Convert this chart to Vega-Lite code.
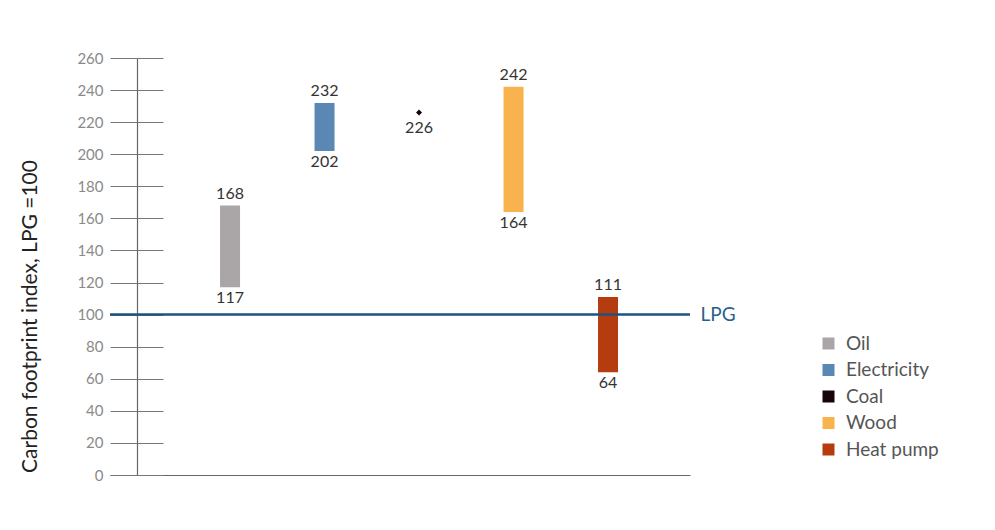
{
  "$schema": "https://vega.github.io/schema/vega-lite/v6.json",
  "width": 580,
  "height": 417,
  "autosize": {"type": "none"},
  "padding": {"left": 110, "top": 58, "right": 305, "bottom": 55},
  "background": "white",
  "config": {
    "view": {"stroke": null},
    "font": "Lato",
    "axis": {"labelFont": "Lato", "titleFont": "Lato"},
    "legend": {"labelFont": "Lato"}
  },
  "datasets": {
    "fuels": [
      {"fuel": "Oil", "low": 117, "high": 168},
      {"fuel": "Electricity", "low": 202, "high": 232},
      {"fuel": "Coal", "low": 226, "high": 226},
      {"fuel": "Wood", "low": 164, "high": 242},
      {"fuel": "Heat pump", "low": 64, "high": 111}
    ],
    "ref": [{"series": "LPG", "index": 100}]
  },
  "resolve": {"scale": {"y": "shared"}, "axis": {"y": "independent"}},
  "layer": [
    {
      "data": {"name": "fuels"},
      "mark": {"type": "bar", "size": 20},
      "encoding": {
        "x": {
          "field": "fuel", "type": "nominal",
          "sort": ["Oil", "Electricity", "Coal", "Wood", "Heat pump"],
          "scale": {"paddingInner": 0, "paddingOuter": 0.569, "align": 0.677},
          "axis": {"labels": false, "ticks": false, "title": null, "domainColor": "#666666", "domainWidth": 1.2}
        },
        "y": {
          "field": "low", "type": "quantitative",
          "scale": {"domain": [0, 260], "nice": false, "zero": true},
          "axis": {
            "orient": "left", "offset": -27, "values": [0,20,40,60,80,100,120,140,160,180,200,220,240,260],
            "tickSize": 27, "tickColor": "#777777", "tickWidth": 1,
            "domainColor": "#666666", "domainWidth": 1.2,
            "labelPadding": 7, "labelFontSize": 15, "labelColor": "#8a8a8a",
            "grid": false,
            "title": "Carbon footprint index, LPG =100",
            "titleFontSize": 21, "titleFontWeight": "normal", "titleColor": "#222222",
            "titleAngle": -90, "titleX": -107, "titleY": 258, "titleAlign": "center", "titleBaseline": "middle"
          }
        },
        "y2": {"field": "high"},
        "color": {
          "field": "fuel", "type": "nominal",
          "scale": {
            "domain": ["Oil", "Electricity", "Coal", "Wood", "Heat pump"],
            "range": ["#aaa5a7", "#5a87b3", "#150508", "#f8b24e", "#b53c0f"]
          },
          "legend": {
            "orient": "none", "legendX": 709, "legendY": 276, "title": null,
            "symbolType": "square", "symbolSize": 144, "symbolStrokeWidth": 0,
            "labelFontSize": 19, "labelColor": "#555555", "labelOffset": 8, "rowPadding": 6.5
          }
        }
      }
    },
    {
      "data": {"name": "ref"},
      "mark": {"type": "rule", "color": "#1f5281", "strokeWidth": 2.5},
      "encoding": {
        "y": {
          "field": "index", "type": "quantitative",
          "axis": {
            "orient": "left", "offset": -53, "values": [0,20,40,60,80,100,120,140,160,180,200,220,240,260],
            "tickSize": 26, "tickColor": "#777777", "tickWidth": 1,
            "labels": false, "domain": false, "grid": false, "title": null
          }
        }
      }
    },
    {
      "data": {"name": "ref"},
      "mark": {"type": "rule", "opacity": 0},
      "encoding": {
        "y": {
          "field": "index", "type": "quantitative",
          "axis": {
            "orient": "right", "values": [100], "labelExpr": "'LPG'",
            "ticks": false, "tickSize": 0, "domain": false, "grid": false, "title": null,
            "labelPadding": 10, "labelFontSize": 19, "labelColor": "#2a5f8a"
          }
        }
      }
    },
    {
      "data": {"name": "fuels"},
      "transform": [{"filter": "datum.fuel !== 'Coal'"}],
      "mark": {"type": "text", "baseline": "bottom", "dy": -4, "fontSize": 16, "color": "#333333"},
      "encoding": {
        "x": {"field": "fuel", "type": "nominal", "sort": ["Oil", "Electricity", "Coal", "Wood", "Heat pump"]},
        "y": {"field": "high", "type": "quantitative", "axis": null},
        "text": {"field": "high", "type": "quantitative"}
      }
    },
    {
      "data": {"name": "fuels"},
      "transform": [{"filter": "datum.fuel !== 'Coal'"}],
      "mark": {"type": "text", "baseline": "top", "dy": 3, "fontSize": 16, "color": "#333333"},
      "encoding": {
        "x": {"field": "fuel", "type": "nominal", "sort": ["Oil", "Electricity", "Coal", "Wood", "Heat pump"]},
        "y": {"field": "low", "type": "quantitative", "axis": null},
        "text": {"field": "low", "type": "quantitative"}
      }
    },
    {
      "data": {"name": "fuels"},
      "transform": [{"filter": "datum.fuel === 'Coal'"}],
      "mark": {"type": "point", "shape": "diamond", "filled": true, "size": 36, "color": "#150508", "opacity": 1},
      "encoding": {
        "x": {"field": "fuel", "type": "nominal", "sort": ["Oil", "Electricity", "Coal", "Wood", "Heat pump"]},
        "y": {"field": "low", "type": "quantitative", "axis": null}
      }
    },
    {
      "data": {"name": "fuels"},
      "transform": [{"filter": "datum.fuel === 'Coal'"}],
      "mark": {"type": "text", "baseline": "top", "dy": 7, "fontSize": 16, "color": "#333333"},
      "encoding": {
        "x": {"field": "fuel", "type": "nominal", "sort": ["Oil", "Electricity", "Coal", "Wood", "Heat pump"]},
        "y": {"field": "low", "type": "quantitative", "axis": null},
        "text": {"field": "low", "type": "quantitative"}
      }
    }
  ]
}
